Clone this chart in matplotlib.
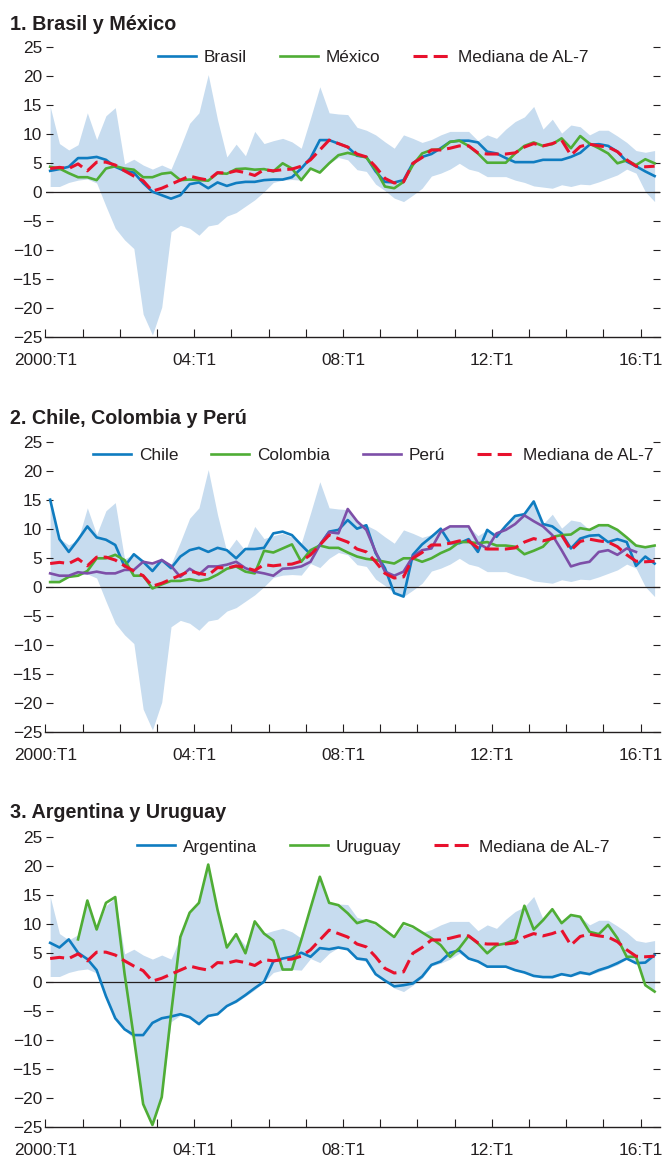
import numpy as np
import matplotlib
matplotlib.use('Agg')
import matplotlib.pyplot as plt
from matplotlib import font_manager


# fuente: Liberation Sans si existe
names = {f.name for f in font_manager.fontManager.ttflist}
base_font = 'Liberation Sans' if 'Liberation Sans' in names else 'DejaVu Sans'
plt.rcParams['font.family'] = [base_font, 'DejaVu Sans']

'''
datos (trimestral, 2000:T1 - 2016:T2)
'''
start_year = 2000
n_quarters = 66

band_hi = [14.8, 8.4, 7.3, 8.2, 13.7, 9.1, 13.2, 14.6, 4.9, 5.7, 4.7, 4.0, 4.7, 4.0, 7.8, 11.9,
           13.7, 20.3, 12.5, 6.1, 8.3, 6.3, 10.5, 8.4, 8.9, 9.3, 8.7, 7.6, 12.8, 18.2, 13.7, 13.5,
           13.4, 11.2, 10.7, 9.9, 8.7, 7.6, 9.9, 9.3, 8.6, 9.1, 9.9, 10.5, 10.5, 10.5, 8.9, 9.9,
           9.3, 10.9, 12.2, 13.0, 14.8, 10.9, 12.6, 10.2, 11.6, 11.3, 9.9, 10.7, 10.7, 9.7, 8.6, 7.2,
           6.9, 7.2]
band_lo = [1.0, 1.0, 1.7, 2.1, 2.3, 1.6, -2.4, -6.2, -8.2, -9.7, -21.0, -24.6, -19.8, -6.8, -5.7, -6.2,
           -7.4, -5.8, -5.5, -4.1, -3.5, -2.4, -1.3, 0.1, 1.7, 2.1, 2.2, 2.1, 4.1, 3.4, 5.0, 6.0,
           5.6, 3.9, 3.6, 1.4, 0.3, -1.0, -1.6, -0.5, 0.7, 2.8, 3.3, 4.0, 5.0, 4.0, 3.6, 2.7,
           2.7, 2.7, 2.1, 1.7, 1.1, 0.9, 0.7, 1.3, 1.0, 1.4, 1.3, 1.8, 2.4, 3.0, 4.0, 3.3,
           0.1, -1.6]
mediana = [4.1, 4.3, 4.1, 4.9, 3.7, 5.2, 5.2, 4.7, 3.7, 2.8, 2.0, 0.2, 0.7, 1.4, 2.1, 2.8,
           2.4, 2.1, 3.4, 3.3, 3.7, 3.4, 2.9, 3.9, 3.7, 3.9, 4.0, 4.5, 5.6, 7.3, 9.0, 8.4,
           7.8, 6.6, 6.1, 4.4, 2.4, 1.6, 1.8, 5.0, 6.0, 7.3, 7.3, 7.6, 8.0, 8.0, 6.8, 6.6,
           6.6, 6.6, 6.8, 7.8, 8.4, 8.0, 8.4, 9.0, 6.4, 7.9, 8.3, 8.0, 7.8, 7.0, 5.6, 4.5,
           4.4, 4.5]

brasil = [3.7, 4.0, 4.4, 5.9, 5.9, 6.1, 5.6, 4.4, 3.7, 3.4, 1.6, 0.1, -0.5, -1.1, -0.5, 1.4,
          1.7, 0.7, 1.7, 1.1, 1.6, 1.8, 1.8, 2.1, 2.2, 2.2, 2.6, 4.1, 5.9, 9.0, 9.0, 8.4,
          7.8, 6.3, 6.1, 3.6, 1.8, 1.7, 2.1, 5.0, 6.1, 6.6, 7.6, 8.7, 8.9, 8.9, 8.6, 7.0,
          6.7, 5.9, 5.2, 5.2, 5.2, 5.6, 5.6, 5.6, 6.1, 6.8, 8.2, 8.3, 8.0, 7.0, 5.3, 4.5,
          3.6, 2.8]
mexico = [4.4, 4.1, 3.3, 2.6, 2.6, 2.1, 4.1, 4.5, 4.1, 3.9, 2.6, 2.6, 3.2, 3.4, 2.1, 2.2,
          2.1, 2.0, 3.3, 3.2, 4.0, 4.1, 3.9, 4.0, 3.6, 5.0, 4.1, 2.1, 4.1, 3.4, 5.0, 6.4,
          6.8, 6.4, 6.0, 3.9, 1.0, 0.7, 1.8, 4.7, 6.7, 7.3, 7.4, 8.7, 8.9, 8.0, 6.7, 5.1,
          5.1, 5.1, 6.7, 8.0, 8.6, 8.0, 8.3, 9.3, 7.6, 9.7, 8.4, 7.6, 6.7, 5.0, 5.5, 4.7,
          5.7, 5.0]

chile = [15.1, 8.3, 6.1, 8.2, 10.5, 8.6, 8.2, 7.3, 3.6, 5.7, 4.4, 2.8, 4.7, 3.3, 5.3, 6.4,
         6.8, 6.1, 6.8, 6.4, 5.0, 6.6, 6.6, 6.8, 9.3, 9.6, 9.0, 7.3, 5.7, 7.3, 9.6, 9.9,
         11.6, 10.1, 10.7, 5.9, 3.3, -1.0, -1.6, 5.6, 7.4, 8.7, 10.1, 7.6, 7.6, 8.3, 6.1, 9.9,
         8.7, 10.6, 12.3, 12.6, 14.8, 10.9, 10.5, 9.3, 6.7, 8.4, 8.9, 9.0, 7.8, 8.3, 7.8, 3.7,
         5.3, 4.1]
colombia = [0.9, 0.9, 1.8, 2.0, 2.8, 5.0, 5.0, 5.6, 4.7, 2.0, 2.0, -0.2, 0.5, 1.1, 1.1, 1.4,
            1.1, 1.4, 2.2, 3.2, 3.6, 2.7, 2.4, 6.3, 6.0, 6.7, 7.4, 4.4, 6.4, 7.2, 6.8, 6.8,
            6.0, 5.3, 4.9, 4.7, 4.4, 4.1, 5.0, 5.0, 4.4, 5.0, 5.9, 6.6, 7.8, 7.8, 7.6, 7.8,
            7.2, 7.2, 7.0, 5.7, 6.3, 7.0, 8.7, 9.0, 9.1, 10.2, 9.9, 10.7, 10.7, 9.9, 8.6, 7.2,
            6.9, 7.2]
peru = [2.4, 2.0, 2.0, 2.6, 2.4, 2.7, 2.4, 2.4, 3.0, 3.0, 4.4, 4.1, 4.7, 3.7, 1.8, 3.2,
        2.2, 3.6, 3.6, 3.9, 4.4, 3.3, 2.7, 2.4, 2.0, 3.2, 3.3, 3.6, 4.4, 7.3, 9.5, 9.3,
        13.5, 11.4, 9.9, 6.1, 2.7, 2.0, 2.7, 5.3, 6.4, 6.7, 9.6, 10.5, 10.5, 10.5, 7.6, 6.7,
        9.3, 9.9, 10.9, 12.4, 11.4, 10.5, 9.0, 6.4, 3.6, 4.1, 4.4, 6.1, 6.4, 5.6, 6.7, 6.1,
        None, None]

argentina = [6.8, 6.0, 7.4, 5.1, 4.0, 2.1, -2.4, -6.2, -8.1, -9.1, -9.1, -7.0, -6.2, -5.9, -5.5, -6.0,
             -7.2, -5.8, -5.5, -4.1, -3.3, -2.2, -1.0, 0.1, 3.6, 4.1, 4.4, 5.1, 4.4, 5.9, 5.7, 6.0,
             5.7, 4.1, 3.9, 1.4, 0.3, -0.7, -0.5, -0.2, 1.0, 3.0, 3.6, 5.1, 5.5, 4.1, 3.6, 2.7,
             2.7, 2.7, 2.1, 1.7, 1.1, 0.9, 0.9, 1.4, 1.1, 1.7, 1.4, 2.1, 2.6, 3.3, 4.1, 3.3,
             3.4, 4.7]
uruguay = [None, None, None, 7.4, 14.1, 9.1, 13.7, 14.7, 1.5, -9.5, -21.0, -24.6, -19.8, -5.5, 7.8, 12.0,
           13.7, 20.3, 12.5, 6.0, 8.3, 5.0, 10.5, 8.4, 7.2, 2.2, 2.2, 7.3, 12.8, 18.2, 13.7, 13.3,
           11.9, 10.2, 10.7, 10.2, 9.0, 7.8, 10.2, 9.6, 8.6, 7.6, 6.4, 4.4, 5.9, 8.0, 6.7, 5.0,
           6.4, 6.7, 7.4, 13.2, 9.1, 10.7, 12.6, 10.2, 11.6, 11.3, 8.7, 8.3, 9.9, 7.6, 4.4, 4.4,
           -0.5, -1.6]

year_ticks = list(range(2000, 2017))
year_labels = {2000: '2000:T1', 2004: '04:T1', 2008: '08:T1', 2012: '12:T1', 2016: '16:T1'}


# colores
c_band = '#c7dcef'
c_blue = '#0f7cc0'
c_green = '#4fad35'
c_red = '#e8112d'
c_purple = '#7d4fa8'
c_text = '#231f20'

FIG_W, FIG_H = 663, 1158
TICK_FS = 12.4
TITLE_FS = 14.2


def to_num(values):
    return np.array([np.nan if v is None else v for v in values], dtype=float)


'''
dibujar un panel
'''
def drawPanel(fig, top_px, title, title_px, legend_px, series):
    left_px, right_px = 45.5, 660.0
    bottom_px = top_px + 290.0
    ax = fig.add_axes([left_px / FIG_W, 1 - bottom_px / FIG_H,
                       (right_px - left_px) / FIG_W, (bottom_px - top_px) / FIG_H])

    x = start_year + (np.arange(n_quarters) + 0.5) / 4.0

    ax.fill_between(x, to_num(band_lo), to_num(band_hi), color=c_band, lw=0, zorder=1)
    ax.axhline(0, color=c_text, lw=0.9, zorder=2)

    handles = []
    for name, values, color in series:
        h, = ax.plot(x, to_num(values), color=color, lw=1.9, zorder=3, label=name)
        handles.append(h)
    h, = ax.plot(x, to_num(mediana), color=c_red, lw=2.2, dashes=(4.6, 2.0),
                 zorder=4, label='Mediana de AL-7')
    handles.append(h)

    ax.set_xlim(2000, 2016.52)
    ax.set_ylim(-25, 25)
    ax.set_yticks(range(-25, 26, 5))
    ax.set_xticks(year_ticks)
    ax.set_xticklabels([year_labels.get(y, '') for y in year_ticks])

    for s in ['left', 'right', 'top']:
        ax.spines[s].set_visible(False)
    ax.spines['bottom'].set_color(c_text)
    ax.spines['bottom'].set_linewidth(1.0)

    ax.tick_params(axis='y', direction='in', left=True, right=True, length=5,
                   width=0.8, color=c_text, labelsize=TICK_FS, labelcolor=c_text, pad=2.5)
    ax.tick_params(axis='x', direction='in', length=5.5, width=0.8, color=c_text,
                   labelsize=TICK_FS, labelcolor=c_text, pad=11)
    ax.patch.set_visible(False)

    fig.text(10 / FIG_W, 1 - title_px / FIG_H, title, fontsize=TITLE_FS,
             fontweight='bold', color=c_text, ha='left', va='baseline')

    leg = ax.legend(handles=handles, loc='center', ncol=len(handles),
                    bbox_to_anchor=(373.5 / FIG_W, 1 - legend_px / FIG_H),
                    bbox_transform=fig.transFigure, frameon=False,
                    fontsize=TICK_FS, handlelength=2.2, handletextpad=0.45,
                    columnspacing=1.9, borderpad=0, borderaxespad=0)
    for t in leg.get_texts():
        t.set_color(c_text)
    return ax


fig = plt.figure(figsize=(FIG_W / 100, FIG_H / 100), dpi=100, facecolor='white')

drawPanel(fig, 47.3, '1. Brasil y México', 30, 57,
          [('Brasil', brasil, c_blue), ('México', mexico, c_green)])
drawPanel(fig, 442.3, '2. Chile, Colombia y Perú', 424, 455,
          [('Chile', chile, c_blue), ('Colombia', colombia, c_green), ('Perú', peru, c_purple)])
drawPanel(fig, 837.3, '3. Argentina y Uruguay', 818, 847,
          [('Argentina', argentina, c_blue), ('Uruguay', uruguay, c_green)])

fig.savefig('out.png', dpi=100, facecolor='white')
